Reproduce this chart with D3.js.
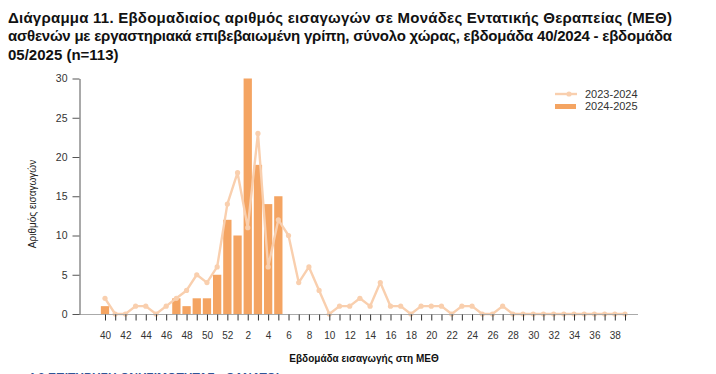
<!DOCTYPE html>
<meta charset="utf-8">
<head>
  <title></title>
  <script src="https://d3js.org/d3.v7.min.js"></script>
  <style>
    body {
      margin: 0;
      background: #fff;
      font-family: "Liberation Sans", Arial, sans-serif;
    }
    .axis text { font: 10px "Liberation Sans", Arial, sans-serif; fill: #333; }
    .title { font: bold 15px "Liberation Sans", Arial, sans-serif; fill: #111; }
  </style>
</head>
<body>
<div id="chart"></div>
<script>

  var titleLines = [
    "Διάγραμμα 11. Εβδομαδιαίος αριθμός εισαγωγών σε Μονάδες Εντατικής Θεραπείας (ΜΕΘ)",
    "ασθενών με εργαστηριακά επιβεβαιωμένη γρίπη, σύνολο χώρας, εβδομάδα 40/2024 - εβδομάδα",
    "05/2025 (n=113)"
  ];

  // weeks shown on the x axis (week 40 to week 39 of next year)
  var weeks = [40, 41, 42, 43, 44, 45, 46, 47, 48, 49, 50, 51, 52,
               1, 2, 3, 4, 5, 6, 7, 8, 9, 10, 11, 12, 13, 14, 15, 16, 17, 18, 19, 20,
               21, 22, 23, 24, 25, 26, 27, 28, 29, 30, 31, 32, 33, 34, 35, 36, 37, 38, 39];

  // only every other week gets a label
  var tickLabels = [40, 42, 44, 46, 48, 50, 52, 2, 4, 6, 8, 10, 12, 14, 16, 18, 20,
                    22, 24, 26, 28, 30, 32, 34, 36, 38];

  var yTicks = [0, 5, 10, 15, 20, 25, 30];

  // season 2023-2024 (line)
  var season2324 = [2, 0, 0, 1, 1, 0, 1, 2, 3, 5, 4, 6, 14,
                    18, 11, 23, 6, 12, 10, 4, 6, 3, 0, 1, 1, 2, 1, 4, 1, 1, 0, 1, 1,
                    1, 0, 1, 1, 0, 0, 1, 0, 0, 0, 0, 0, 0, 0, 0, 0, 0, 0, 0];

  // season 2024-2025 (bars), weeks 40/2024 - 05/2025
  var season2425 = [1, 0, 0, 0, 0, 0, 0, 2, 1, 2, 2, 5, 12,
                    10, 30, 19, 14, 15];

  var seriesNames = ["2023-2024", "2024-2025"];
  var lineColor = "#f9cfae";
  var barColor = "#f4a462";

  var svg = d3.select("#chart")
    .append("svg")
      .attr("width", 716)
      .attr("height", 374)
      .style("display", "block");

  // title, first two lines stretched to the full width like justified text
  svg.selectAll("text.title")
    .data(titleLines)
    .enter().append("text")
      .attr("class", "title")
      .attr("x", 8)
      .attr("y", function(d, i) { return 22.5 + i * 18.5; })
      .attr("textLength", function(d, i) { return i < 2 ? 664 : null; })
      .attr("lengthAdjust", "spacing")
      .text(function(d) { return d; });

  var x = d3.scalePoint()
    .domain(weeks)
    .range([105, 625]);

  var y = d3.scaleLinear()
    .domain([0, 30])
    .range([314, 78.5]);

  var barW = 8.3;

  // bars
  svg.append("g")
    .selectAll("rect")
    .data(season2425.map(function(v, i) { return {week: weeks[i], value: v}; }))
    .enter().append("rect")
      .attr("x", function(d) { return x(d.week) - barW / 2; })
      .attr("y", function(d) { return y(d.value); })
      .attr("width", barW)
      .attr("height", function(d) { return y(0) - y(d.value); })
      .attr("fill", barColor);

  // line
  var lineData = season2324.map(function(v, i) { return {week: weeks[i], value: v}; });
  var line = d3.line()
    .x(function(d) { return x(d.week); })
    .y(function(d) { return y(d.value); });

  svg.append("path")
    .datum(lineData)
    .attr("fill", "none")
    .attr("stroke", lineColor)
    .attr("stroke-width", 2.4)
    .attr("stroke-linejoin", "round")
    .attr("d", line);

  svg.append("g")
    .selectAll("circle")
    .data(lineData)
    .enter().append("circle")
      .attr("cx", function(d) { return x(d.week); })
      .attr("cy", function(d) { return y(d.value); })
      .attr("r", 2.6)
      .attr("fill", lineColor);

  // x axis
  svg.append("line")
    .attr("x1", 79).attr("x2", 638)
    .attr("y1", y(0) + 0.5).attr("y2", y(0) + 0.5)
    .attr("stroke", "#aaa");

  var xAxis = svg.append("g")
    .attr("class", "axis")
    .attr("transform", "translate(0," + (y(0) + 0.5) + ")")
    .call(d3.axisBottom(x)
      .tickSize(6)
      .tickFormat(function(d) { return tickLabels.indexOf(d) >= 0 ? d : ""; }));
  xAxis.select(".domain").remove();
  xAxis.selectAll(".tick line").attr("stroke", "#333");
  xAxis.selectAll(".tick text").attr("y", 17);

  // y axis
  var yAxis = svg.append("g")
    .attr("class", "axis")
    .attr("transform", "translate(79.5,0)")
    .call(d3.axisLeft(y).tickValues(yTicks).tickSize(7).tickSizeOuter(0).tickPadding(5));
  yAxis.select(".domain").attr("stroke", "#555");
  yAxis.selectAll(".tick line").attr("stroke", "#555");
  yAxis.selectAll(".tick text").style("font-size", "10.5px").attr("fill", "#444");

  // axis titles
  svg.append("text")
    .attr("transform", "translate(36,204) rotate(-90)")
    .attr("text-anchor", "middle")
    .style("font", "10px 'Liberation Sans', Arial, sans-serif")
    .attr("fill", "#222")
    .text("Αριθμός εισαγωγών");

  svg.append("text")
    .attr("x", 364)
    .attr("y", 362)
    .attr("text-anchor", "middle")
    .style("font", "bold 10px 'Liberation Sans', Arial, sans-serif")
    .attr("fill", "#111")
    .text("Εβδομάδα εισαγωγής στη ΜΕΘ");

  // legend
  var legend = svg.append("g").attr("transform", "translate(555,0)");
  legend.append("line")
    .attr("x1", 0).attr("x2", 22).attr("y1", 94).attr("y2", 94)
    .attr("stroke", lineColor).attr("stroke-width", 2.4);
  legend.append("circle")
    .attr("cx", 14).attr("cy", 94).attr("r", 2.6).attr("fill", lineColor);
  legend.append("rect")
    .attr("x", 0).attr("y", 104).attr("width", 21).attr("height", 5)
    .attr("fill", barColor);
  legend.selectAll("text.leg")
    .data(seriesNames)
    .enter().append("text")
      .attr("class", "leg")
      .attr("x", 30)
      .attr("y", function(d, i) { return 98 + i * 12; })
      .style("font", "11px 'Liberation Sans', Arial, sans-serif")
      .attr("fill", "#333")
      .text(function(d) { return d; });

  // heading of the next section, cut by the page edge
  svg.append("text")
    .attr("x", 28)
    .attr("y", 382)
    .style("font", "bold 12px 'Liberation Sans', Arial, sans-serif")
    .attr("fill", "#2f5597")
    .text("4.3 ΕΠΙΤΗΡΗΣΗ ΘΝΗΣΙΜΟΤΗΤΑΣ - ΘΑΝΑΤΟΙ");

</script>
</body>
</html>
